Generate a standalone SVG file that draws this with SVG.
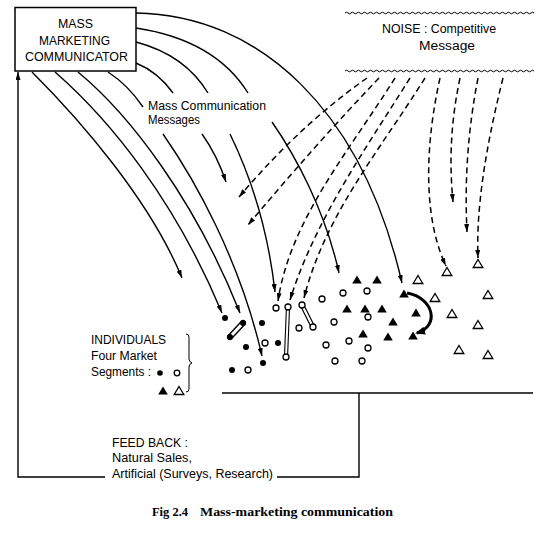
<svg xmlns="http://www.w3.org/2000/svg" xmlns:xlink="http://www.w3.org/1999/xlink" width="540" height="533" viewBox="0 0 540 533">
<defs>
<style>
.t{font-family:"Liberation Sans","DejaVu Sans",Arial,sans-serif;font-size:12px;fill:#000}
.b{font-size:13.5px}
.cap{font-family:"Liberation Serif","DejaVu Serif",serif;font-size:12px;font-weight:bold;fill:#000}
.s{fill:none;stroke:#000;stroke-width:1.4}
.d{fill:none;stroke:#000;stroke-width:1.5;stroke-dasharray:6 4}
.w{fill:none;stroke:#000;stroke-width:1}
.fc{fill:#000}
.oc{fill:#fff;stroke:#000;stroke-width:1.3}
</style>
<marker id="ah" viewBox="0 0 8 5" refX="8" refY="2.5" markerWidth="8" markerHeight="5" markerUnits="userSpaceOnUse" orient="auto">
<path d="M0,0 L8,2.5 L0,5 Z" fill="#000"/>
</marker>
<marker id="ahb" viewBox="0 0 10 8" refX="8" refY="4" markerWidth="10" markerHeight="8" markerUnits="userSpaceOnUse" orient="auto">
<path d="M0,0 L10,4 L0,8 Z" fill="#000"/>
</marker>
<path id="tri" d="M0,-4.5 L4.8,3.5 L-4.8,3.5 Z"/>
</defs>
<rect width="540" height="533" fill="#fff"/>

<g id="connectors">
<path class="s" d="M136,13 C260,15 362,110 402,283" marker-end="url(#ah)"/>
<path class="s" d="M136,28 Q215,40 248,93"/>
<path class="s" d="M272,122 C295,155 325,210 339,273" marker-end="url(#ah)"/>
<path class="s" d="M136,42 Q185,55 208,93"/>
<path class="s" d="M230,134 C250,175 268,230 275,292" marker-end="url(#ah)"/>
<path class="s" d="M136,63 Q158,72 173,93"/>
<path class="s" d="M202,134 Q217,155 226,182" marker-end="url(#ah)"/>
<path class="s" d="M108,72 Q128,85 143,107"/>
<path class="s" d="M163,134 C195,180 240,260 262,356" marker-end="url(#ah)"/>
<path class="s" d="M78,72 C130,115 195,200 240,313" marker-end="url(#ah)"/>
<path class="s" d="M55,72 C110,120 175,200 222,313" marker-end="url(#ah)"/>
<path class="s" d="M32,72 C80,120 150,200 182,278" marker-end="url(#ah)"/>
<path class="d" d="M367,78 Q300,125 239,197" marker-end="url(#ah)"/>
<path class="d" d="M379,78 Q315,145 248,225" marker-end="url(#ah)"/>
<path class="d" d="M395,78 C350,150 290,220 278,301" marker-end="url(#ah)"/>
<path class="d" d="M410,78 C365,150 315,220 290,300" marker-end="url(#ah)"/>
<path class="d" d="M425,78 C380,150 325,215 304,298" marker-end="url(#ah)"/>
<path class="d" d="M440,78 C424,150 424,220 446,266" marker-end="url(#ah)"/>
<path class="d" d="M460,78 C449,130 450,170 453,202" marker-end="url(#ah)"/>
<path class="d" d="M478,78 C466,140 465,190 467,232" marker-end="url(#ah)"/>
<path class="d" d="M503,78 C485,150 476,210 478,258" marker-end="url(#ah)"/>
<path class="s" d="M222,393 L533,393"/>
<path class="s" d="M359,393 L359,477 L277,477"/>
<path class="s" d="M105,477 L18,477 L18,72" marker-end="url(#ah)"/>
<path fill="none" stroke="#000" stroke-width="3" d="M407,293 C434,298 440,326 417,333" marker-end="url(#ahb)"/>
</g>

<g id="communicator">
<rect x="15" y="7.5" width="121" height="63.5" fill="#fff" stroke="#000" stroke-width="1.5"/>
<text class="t b" x="75.5" y="28" text-anchor="middle" textLength="35" lengthAdjust="spacingAndGlyphs">MASS</text>
<text class="t b" x="74.5" y="45" text-anchor="middle" textLength="71" lengthAdjust="spacingAndGlyphs">MARKETING</text>
<text class="t b" x="76.5" y="61" text-anchor="middle" textLength="103" lengthAdjust="spacingAndGlyphs">COMMUNICATOR</text>
</g>

<g id="noise">
<path class="w" d="M345,13 q1.5,-1.6 3,0 t3,0 t3,0 t3,0 t3,0 t3,0 t3,0 t3,0 t3,0 t3,0 t3,0 t3,0 t3,0 t3,0 t3,0 t3,0 t3,0 t3,0 t3,0 t3,0 t3,0 t3,0 t3,0 t3,0 t3,0 t3,0 t3,0 t3,0 t3,0 t3,0 t3,0 t3,0 t3,0 t3,0 t3,0 t3,0 t3,0 t3,0 t3,0 t3,0 t3,0 t3,0 t3,0 t3,0 t3,0 t3,0 t3,0 t3,0 t3,0 t3,0 t3,0 t3,0 t3,0 t3,0 t3,0 t3,0 t3,0 t3,0 t3,0 t3,0 t3,0 t3,0 t3,0"/>
<path class="w" d="M345,71 q1.5,-1.6 3,0 t3,0 t3,0 t3,0 t3,0 t3,0 t3,0 t3,0 t3,0 t3,0 t3,0 t3,0 t3,0 t3,0 t3,0 t3,0 t3,0 t3,0 t3,0 t3,0 t3,0 t3,0 t3,0 t3,0 t3,0 t3,0 t3,0 t3,0 t3,0 t3,0 t3,0 t3,0 t3,0 t3,0 t3,0 t3,0 t3,0 t3,0 t3,0 t3,0 t3,0 t3,0 t3,0 t3,0 t3,0 t3,0 t3,0 t3,0 t3,0 t3,0 t3,0 t3,0 t3,0 t3,0 t3,0 t3,0 t3,0 t3,0 t3,0 t3,0 t3,0 t3,0 t3,0"/>
<text class="t" x="382" y="33" textLength="114" lengthAdjust="spacingAndGlyphs">NOISE : Competitive</text>
<text class="t" x="419" y="50" textLength="56" lengthAdjust="spacingAndGlyphs">Message</text>
</g>

<g id="messages-label">
<text class="t" x="148" y="110" textLength="118" lengthAdjust="spacingAndGlyphs">Mass Communication</text>
<text class="t" x="148" y="124" textLength="52" lengthAdjust="spacingAndGlyphs">Messages</text>
</g>

<g id="individuals">
<text class="t" x="91" y="344" textLength="75" lengthAdjust="spacingAndGlyphs">INDIVIDUALS</text>
<text class="t" x="91" y="360" textLength="66" lengthAdjust="spacingAndGlyphs">Four Market</text>
<text class="t" x="91" y="376" textLength="60" lengthAdjust="spacingAndGlyphs">Segments :</text>
<circle class="fc" cx="160" cy="373" r="2.8"/>
<circle class="oc" cx="177" cy="373" r="2.8"/>
<use xlink:href="#tri" x="163" y="391" fill="#000"/>
<use xlink:href="#tri" x="179" y="391" fill="#fff" stroke="#000" stroke-width="1.3"/>
<path class="w" stroke-width="1.2" d="M186,334 q3,0 3,3 L189,359 q0,3 3,4 q-3,1 -3,4 L189,389 q0,3 -3,3"/>
</g>

<g id="segments">
<line x1="230" y1="337" x2="243" y2="323" stroke="#000" stroke-width="6" stroke-linecap="round"/>
<line x1="230" y1="337" x2="243" y2="323" stroke="#fff" stroke-width="3.2" stroke-linecap="round"/>
<line x1="288" y1="307" x2="286" y2="357" stroke="#000" stroke-width="4.2" stroke-linecap="round"/>
<line x1="288" y1="307" x2="286" y2="357" stroke="#fff" stroke-width="2" stroke-linecap="round"/>
<line x1="302" y1="305" x2="313" y2="327" stroke="#000" stroke-width="4.6" stroke-linecap="round"/>
<line x1="302" y1="305" x2="313" y2="327" stroke="#fff" stroke-width="2.2" stroke-linecap="round"/>
<circle class="fc" cx="225" cy="318" r="3"/>
<circle class="fc" cx="230" cy="337" r="3"/>
<circle class="fc" cx="243" cy="323" r="3"/>
<circle class="fc" cx="262" cy="323" r="3"/>
<circle class="fc" cx="246" cy="347" r="3"/>
<circle class="fc" cx="278" cy="343" r="3"/>
<circle class="fc" cx="263" cy="363" r="3"/>
<circle class="fc" cx="232" cy="370" r="3"/>
<circle class="oc" cx="276" cy="308" r="3"/>
<circle class="oc" cx="288" cy="307" r="3"/>
<circle class="oc" cx="302" cy="305" r="3"/>
<circle class="oc" cx="265" cy="343" r="3"/>
<circle class="oc" cx="286" cy="357" r="3"/>
<circle class="oc" cx="299" cy="328" r="3"/>
<circle class="oc" cx="313" cy="327" r="3"/>
<circle class="oc" cx="248" cy="370" r="3"/>
<circle class="oc" cx="322" cy="299" r="3"/>
<circle class="oc" cx="343" cy="293" r="3"/>
<circle class="oc" cx="367" cy="291" r="3"/>
<circle class="oc" cx="334" cy="322" r="3"/>
<circle class="oc" cx="368" cy="317" r="3"/>
<circle class="oc" cx="349" cy="341" r="3"/>
<circle class="oc" cx="326" cy="345" r="3"/>
<circle class="oc" cx="368" cy="348" r="3"/>
<circle class="oc" cx="335" cy="361" r="3"/>
<circle class="oc" cx="362" cy="361" r="3"/>
<g fill="#000">
<use xlink:href="#tri" x="357" y="280"/>
<use xlink:href="#tri" x="377" y="280"/>
<use xlink:href="#tri" x="404" y="294"/>
<use xlink:href="#tri" x="347" y="309"/>
<use xlink:href="#tri" x="365" y="309"/>
<use xlink:href="#tri" x="382" y="309"/>
<use xlink:href="#tri" x="416" y="313"/>
<use xlink:href="#tri" x="393" y="322"/>
<use xlink:href="#tri" x="363" y="334"/>
<use xlink:href="#tri" x="388" y="337"/>
<use xlink:href="#tri" x="413" y="336"/>
</g>
<g fill="#fff" stroke="#000" stroke-width="1.3">
<use xlink:href="#tri" x="418" y="280"/>
<use xlink:href="#tri" x="447" y="272"/>
<use xlink:href="#tri" x="478" y="264"/>
<use xlink:href="#tri" x="435" y="298"/>
<use xlink:href="#tri" x="488" y="295"/>
<use xlink:href="#tri" x="452" y="314"/>
<use xlink:href="#tri" x="478" y="325"/>
<use xlink:href="#tri" x="459" y="350"/>
<use xlink:href="#tri" x="488" y="355"/>
</g>
</g>

<g id="feedback">
<text class="t" x="112" y="447" textLength="76" lengthAdjust="spacingAndGlyphs">FEED BACK :</text>
<text class="t" x="112" y="462" textLength="80" lengthAdjust="spacingAndGlyphs">Natural Sales,</text>
<text class="t" x="112" y="478" textLength="161" lengthAdjust="spacingAndGlyphs">Artificial (Surveys, Research)</text>
</g>

<g id="caption">
<text class="cap" x="152" y="516" textLength="36" lengthAdjust="spacingAndGlyphs">Fig 2.4</text>
<text class="cap" x="200" y="516" textLength="193" lengthAdjust="spacingAndGlyphs">Mass-marketing communication</text>
</g>
</svg>
